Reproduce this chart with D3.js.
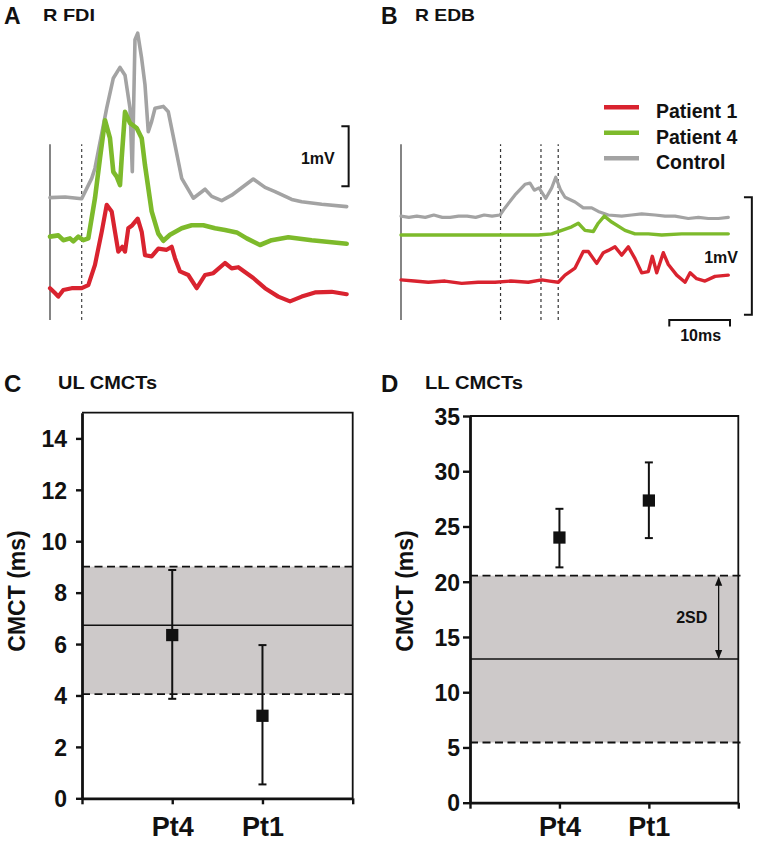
<!DOCTYPE html>
<html>
<head>
<meta charset="utf-8">
<script src="https://cdn.jsdelivr.net/npm/d3@7"></script>
<style>
  html, body { margin: 0; padding: 0; background: #ffffff; }
  svg { display: block; font-family: "Liberation Sans", Arial, Helvetica, sans-serif; font-weight: bold; }
</style>
</head>
<body>
<svg id="chart" width="760" height="845"></svg>
<script>
// ---------------- DATA ----------------
// Panel A: R FDI MEP traces, [time (ms), amplitude (mV, with display offset)]
const fdiControl = [[0,2.04],[2.5,2.05],[5.22,2.02],[6.87,2.36],[7.41,2.53],[9.34,3.53],[10.43,4.03],[11.53,4.21],[12.36,4.08],[13.18,3.53],[13.56,2.47],[14.0,4.67],[14.45,4.78],[15.1,4.36],[15.65,3.92],[16.19,3.14],[16.75,3.31],[17.3,3.53],[18.67,3.56],[19.49,3.47],[20.59,2.92],[21.7,2.36],[23.61,2.03],[25.54,2.18],[26.64,2.06],[28.29,1.99],[29.93,2.08],[33.49,2.35],[35.42,2.21],[37.07,2.14],[39.82,2.01],[41.47,1.97],[44.76,1.93],[48.88,1.89]];
const fdiPatient4 = [[0,1.39],[1.37,1.41],[2.19,1.33],[3.29,1.36],[3.84,1.31],[4.66,1.39],[5.49,1.33],[6.31,1.36],[7.41,2.03],[8.24,2.7],[9.06,3.33],[9.88,3.03],[10.43,2.47],[10.99,2.39],[11.53,2.25],[11.81,2.7],[12.36,3.47],[13.18,3.28],[14.28,3.2],[15.11,3.03],[15.65,2.58],[16.75,1.81],[17.84,1.44],[18.67,1.32],[19.77,1.42],[21.7,1.53],[23.34,1.58],[25.26,1.58],[27.18,1.53],[28.83,1.5],[30.76,1.46],[32.41,1.36],[34.6,1.25],[36.52,1.33],[39.26,1.38],[43.11,1.33],[48.88,1.27]];
const fdiPatient1 = [[0,0.53],[0.82,0.45],[1.37,0.39],[2.19,0.5],[3.57,0.53],[5.22,0.53],[6.31,0.58],[7.41,0.92],[8.52,1.47],[9.34,1.92],[10.16,1.81],[10.71,1.47],[11.25,1.14],[11.91,1.22],[12.36,1.14],[12.9,1.53],[13.56,1.58],[14.45,1.69],[15.11,1.47],[15.65,1.08],[16.75,1.06],[17.84,1.19],[19.22,1.17],[20.05,1.22],[20.59,1.03],[21.42,0.81],[22.78,0.75],[24.17,0.53],[25.54,0.75],[26.9,0.78],[28.83,0.95],[29.93,0.86],[31.02,0.88],[33.49,0.7],[35.42,0.53],[37.61,0.39],[39.54,0.31],[41.47,0.39],[43.66,0.46],[46.41,0.47],[48.88,0.43]];
const fdiMarkers = [0, 5.22];           // stimulus (solid) and onset (dashed), ms

// Panel B: R EDB MEP traces
const edbControl = [[0,0.88],[1.3,0.87],[2.6,0.88],[4.0,0.87],[5.4,0.89],[6.8,0.87],[8.1,0.87],[9.5,0.88],[10.9,0.88],[12.3,0.87],[13.7,0.89],[15.0,0.88],[16.31,0.89],[17.13,0.95],[18.78,1.06],[20.43,1.15],[21.25,1.16],[21.96,1.1],[22.73,1.12],[23.84,1.03],[24.83,1.12],[25.49,1.21],[26.31,1.1],[27.02,1.04],[28.67,1.0],[30.03,0.95],[31.42,0.95],[32.5,0.92],[34.15,0.89],[36.36,0.88],[38.0,0.89],[39.65,0.9],[41.85,0.89],[43.5,0.88],[45.14,0.88],[47.33,0.86],[49.0,0.87],[50.63,0.86],[52.3,0.86],[53.92,0.87]];
const edbPatient4 = [[0,0.72],[4,0.72],[8,0.72],[12,0.72],[16,0.72],[20,0.72],[22.62,0.72],[24.83,0.73],[26.47,0.76],[28.12,0.79],[29.21,0.82],[30.31,0.76],[31.68,0.75],[32.5,0.82],[33.49,0.88],[34.71,0.83],[36.9,0.76],[38.55,0.73],[40.74,0.73],[42.95,0.72],[46.24,0.73],[50.63,0.73],[53.92,0.73]];
const edbPatient1 = [[0,0.34],[2.2,0.33],[4.5,0.32],[7.25,0.33],[10,0.31],[12.7,0.32],[15.49,0.32],[18.1,0.33],[20.97,0.32],[23.18,0.34],[24.5,0.33],[25.91,0.32],[27.02,0.38],[28.67,0.44],[30.03,0.58],[30.86,0.58],[32.24,0.48],[33.33,0.57],[34.15,0.59],[35.26,0.62],[36.36,0.55],[37.45,0.62],[38.55,0.52],[39.65,0.4],[40.74,0.41],[41.4,0.54],[42.13,0.4],[43.21,0.57],[44.04,0.47],[45.42,0.38],[46.8,0.32],[47.63,0.4],[48.71,0.35],[50.08,0.33],[51.73,0.37],[53.92,0.38]];
const edbMarkers = [0, 16.4, 23.06, 25.9]; // stimulus (solid) and onsets (dashed), ms

const legendLabels = ["Patient 1", "Patient 4", "Control"];
const traceColors = ["#d9232f", "#7dba2b", "#a3a3a3"];

// Panel C: upper-limb CMCT
const ulCategories = ["Pt4", "Pt1"];
const ulValue = [6.35, 3.21];
const ulLow = [3.87, 0.54];
const ulHigh = [8.88, 5.96];
const ulNormal = [4.05, 6.73, 9.01];      // mean-2SD, mean, mean+2SD
const ulTicks = [0, 2, 4, 6, 8, 10, 12, 14];

// Panel D: lower-limb CMCT
const llCategories = ["Pt4", "Pt1"];
const llValue = [24.0, 27.35];
const llLow = [21.3, 23.95];
const llHigh = [26.6, 30.8];
const llNormal = [5.45, 13.0, 20.55];
const llTicks = [0, 5, 10, 15, 20, 25, 30, 35];

// ---------------- DRAW ----------------
const svg = d3.select("#chart");

svg.append("defs").html(
  '<marker id="arrowHead" viewBox="0 0 10 10" refX="9" refY="5" markerWidth="7" markerHeight="7" orient="auto-start-reverse">' +
  '<path d="M0,1 L10,5 L0,9 z" fill="#111"/></marker>');

function text(x, y, str, size, anchor) {
  return svg.append("text").attr("x", x).attr("y", y).attr("font-size", size)
    .attr("text-anchor", anchor || "start").attr("fill", "#111").text(str);
}

// Panel titles
text(4, 24, "A", 23);
text(43, 21, "R FDI", 17).attr("textLength", 52).attr("lengthAdjust", "spacingAndGlyphs");
text(381, 24, "B", 23);
text(415, 21, "R EDB", 17).attr("textLength", 60).attr("lengthAdjust", "spacingAndGlyphs");
text(4, 392, "C", 24);
text(58, 389, "UL CMCTs", 18).attr("textLength", 99).attr("lengthAdjust", "spacingAndGlyphs");
text(381, 392, "D", 24);
text(425, 389, "LL CMCTs", 18).attr("textLength", 98).attr("lengthAdjust", "spacingAndGlyphs");

// ---------- Panel A ----------
const xA = d3.scaleLinear().domain([0, 50]).range([50, 50 + 50 * 6.07]);
const yA = d3.scaleLinear().domain([0, 5]).range([320, 20]);
const gA = svg.append("g");
fdiMarkers.forEach((t, i) => {
  gA.append("line").attr("x1", xA(t)).attr("x2", xA(t)).attr("y1", yA(0)).attr("y2", yA(2.93))
    .attr("stroke", i === 0 ? "#666" : "#444").attr("stroke-width", i === 0 ? 1.6 : 1.2)
    .attr("stroke-dasharray", i === 0 ? null : "3,3");
});
const lineA = d3.line().x(d => xA(d[0])).y(d => yA(d[1]));
[[fdiControl, 2, 3.6], [fdiPatient4, 1, 4.6], [fdiPatient1, 0, 4.2]].forEach(([data, c, w]) => {
  gA.append("path").datum(data).attr("d", lineA).attr("fill", "none")
    .attr("stroke", traceColors[c]).attr("stroke-width", w)
    .attr("stroke-linejoin", "round").attr("stroke-linecap", "round");
});
// 1 mV scale bar
const sbA = d3.path();
sbA.moveTo(xA(48.0), yA(3.23)); sbA.lineTo(xA(49.2), yA(3.23)); sbA.lineTo(xA(49.2), yA(2.23)); sbA.lineTo(xA(48.0), yA(2.23));
gA.append("path").attr("d", sbA.toString()).attr("fill", "none").attr("stroke", "#111").attr("stroke-width", 2);
text(xA(46.9), 164, "1mV", 16, "end");

// ---------- Panel B ----------
const xB = d3.scaleLinear().domain([0, 50]).range([401, 401 + 50 * 6.07]);
const yB = d3.scaleLinear().domain([0, 2]).range([320, 84]);
const gB = svg.append("g");
edbMarkers.forEach((t, i) => {
  gB.append("line").attr("x1", xB(t)).attr("x2", xB(t)).attr("y1", yB(0)).attr("y2", yB(1.49))
    .attr("stroke", i === 0 ? "#666" : "#333").attr("stroke-width", i === 0 ? 1.6 : 1.2)
    .attr("stroke-dasharray", i === 0 ? null : "3,3");
});
const lineB = d3.line().x(d => xB(d[0])).y(d => yB(d[1]));
[[edbControl, 2, 3.2], [edbPatient4, 1, 3.4], [edbPatient1, 0, 3.4]].forEach(([data, c, w]) => {
  gB.append("path").datum(data).attr("d", lineB).attr("fill", "none")
    .attr("stroke", traceColors[c]).attr("stroke-width", w)
    .attr("stroke-linejoin", "round").attr("stroke-linecap", "round");
});
// 1 mV bar
const sbB = d3.path();
sbB.moveTo(xB(56.5), yB(1.04)); sbB.lineTo(xB(57.8), yB(1.04)); sbB.lineTo(xB(57.8), yB(0.045)); sbB.lineTo(xB(56.5), yB(0.045));
gB.append("path").attr("d", sbB.toString()).attr("fill", "none").attr("stroke", "#111").attr("stroke-width", 2);
text(738, 263, "1mV", 16, "end");
// 10 ms bar
const tb = d3.path();
tb.moveTo(xB(44.2), yB(-0.055)); tb.lineTo(xB(44.2), yB(0.0)); tb.lineTo(xB(54.2), yB(0.0)); tb.lineTo(xB(54.2), yB(-0.055));
gB.append("path").attr("d", tb.toString()).attr("fill", "none").attr("stroke", "#111").attr("stroke-width", 2);
text((xB(44.2) + xB(54.2)) / 2 + 1, 341, "10ms", 16, "middle");

// Legend
legendLabels.forEach((lab, i) => {
  const y = 107.3 + i * 25.5;
  svg.append("line").attr("x1", 604).attr("x2", 639).attr("y1", y).attr("y2", y)
    .attr("stroke", traceColors[i]).attr("stroke-width", 4.5);
  text(656, y + 11, lab, 19.5);
});

// ---------- CMCT panels ----------
function cmctPanel(opts) {
  const { x0, x1, yBottom, yTop, domainMax, ticks, values, lows, highs, cats, normal, tickGap, tickSize } = opts;
  const x = d3.scaleLinear().domain([0, 3]).range([x0, x1]);
  const y = d3.scaleLinear().domain([0, domainMax]).range([yBottom, yTop]);
  const g = svg.append("g");
  // normal band
  g.append("rect").attr("x", x(0)).attr("y", y(normal[2])).attr("width", x(3) - x(0))
    .attr("height", y(normal[0]) - y(normal[2])).attr("fill", "#cdc9c9");
  // frame top and right
  g.append("path").attr("d", `M${x(0)},${y(domainMax)}H${x(3)}V${y(0)}`)
    .attr("fill", "none").attr("stroke", "#111").attr("stroke-width", 1.8);
  // dashed limits
  [normal[0], normal[2]].forEach(v => {
    g.append("line").attr("x1", x(0)).attr("x2", x(3) + 3).attr("y1", y(v)).attr("y2", y(v))
      .attr("stroke", "#111").attr("stroke-width", 1.8).attr("stroke-dasharray", "8,4.5");
  });
  // mean
  g.append("line").attr("x1", x(0)).attr("x2", x(3)).attr("y1", y(normal[1])).attr("y2", y(normal[1]))
    .attr("stroke", "#111").attr("stroke-width", 1.6);
  // axes
  const ay = g.append("g").attr("transform", `translate(${x(0)},0)`)
    .call(d3.axisLeft(y).tickValues(ticks).tickSize(tickSize).tickPadding(tickGap).tickSizeOuter(0));
  ay.select(".domain").attr("stroke-width", 2.8).attr("stroke", "#111");
  ay.selectAll(".tick line").attr("stroke-width", 2.4).attr("stroke", "#111");
  ay.selectAll(".tick text").attr("font-size", 23).attr("font-family", null).attr("fill", "#111").attr("dy", "0.36em");
  const ax = g.append("g").attr("transform", `translate(0,${y(0)})`)
    .call(d3.axisBottom(x).tickValues([0, 1, 2, 3]).tickSize(6).tickSizeOuter(0)
      .tickFormat(d => (d >= 1 && d <= 2) ? cats[d - 1] : ""));
  ax.select(".domain").attr("stroke-width", 2.8).attr("stroke", "#111");
  ax.selectAll(".tick line").attr("stroke-width", 2.4).attr("stroke", "#111");
  ax.selectAll(".tick text").attr("font-size", 27).attr("font-family", null).attr("fill", "#111")
    .attr("dy", 0).attr("y", 836 - yBottom);
  // error bars
  cats.forEach((c, i) => {
    const cx = x(i + 1);
    g.append("line").attr("x1", cx).attr("x2", cx).attr("y1", y(lows[i])).attr("y2", y(highs[i]))
      .attr("stroke", "#111").attr("stroke-width", 2);
    [lows[i], highs[i]].forEach(v => {
      g.append("line").attr("x1", cx - 4).attr("x2", cx + 4).attr("y1", y(v)).attr("y2", y(v))
        .attr("stroke", "#111").attr("stroke-width", 2);
    });
    g.append("path").attr("d", d3.symbol(d3.symbolSquare, 150)())
      .attr("transform", `translate(${cx},${y(values[i])})`).attr("fill", "#111");
  });
  // y label
  text(0, 0, "CMCT (ms)", 23, "middle").attr("transform", `translate(${x0 - 57},591) rotate(-90)`);
  return { x, y, g };
}

cmctPanel({ x0: 82, x1: 352.7, yBottom: 798.3, yTop: 412.7, domainMax: 15, ticks: ulTicks,
  values: ulValue, lows: ulLow, highs: ulHigh, cats: ulCategories, normal: ulNormal, tickGap: 9, tickSize: 6 });
const pD = cmctPanel({ x0: 470, x1: 738.3, yBottom: 802.7, yTop: 416, domainMax: 35, ticks: llTicks,
  values: llValue, lows: llLow, highs: llHigh, cats: llCategories, normal: llNormal, tickGap: 3, tickSize: 7 });

// 2SD arrow
pD.g.append("line").attr("x1", pD.x(2.78)).attr("x2", pD.x(2.78))
  .attr("y1", pD.y(llNormal[2]) + 2).attr("y2", pD.y(llNormal[1]) - 1)
  .attr("stroke", "#111").attr("stroke-width", 1.3)
  .attr("marker-start", "url(#arrowHead)").attr("marker-end", "url(#arrowHead)");
text(pD.x(2.48), 623, "2SD", 16, "middle");
</script>
</body>
</html>
